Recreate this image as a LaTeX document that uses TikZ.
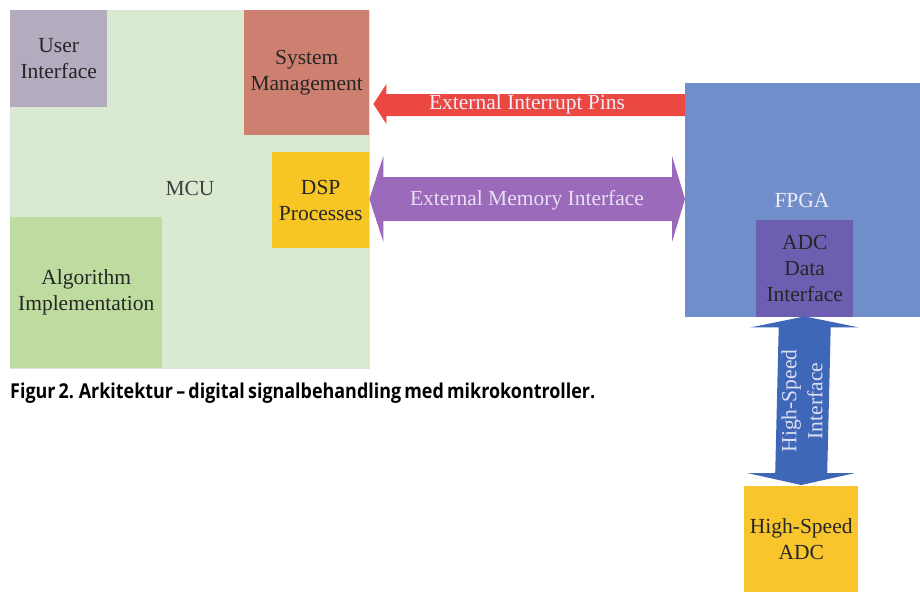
\documentclass[tikz,border=0pt]{standalone}
\usepackage{fontspec}
\usepackage{graphicx}
\setmainfont{Liberation Serif}
\newfontfamily\capfont{Open Sans}
\usetikzlibrary{calc}
\definecolor{mcubg}{RGB}{218,234,208}
\definecolor{uicol}{RGB}{180,172,190}
\definecolor{syscol}{RGB}{206,128,112}
\definecolor{dspcol}{RGB}{247,198,36}
\definecolor{algcol}{RGB}{190,220,160}
\definecolor{redarr}{RGB}{234,72,64}
\definecolor{purarr}{RGB}{155,106,186}
\definecolor{fpgacol}{RGB}{112,143,202}
\definecolor{adccol}{RGB}{108,95,178}
\definecolor{bluearr}{RGB}{63,103,184}
\definecolor{hsadc}{RGB}{248,198,44}
\definecolor{boxtext}{RGB}{38,38,38}
\definecolor{lighttext}{RGB}{240,236,250}
\tikzset{
  blk/.style={anchor=north west, inner sep=0pt, align=center, text=boxtext,
    font=\fontsize{21.5}{26}\selectfont},
  lbl/.style={inner sep=0pt, align=center, font=\fontsize{21.5}{26}\selectfont}
}
\begin{document}
\begin{tikzpicture}[x=1pt,y=-1pt]
\useasboundingbox (0,0) rectangle (920,592);
\fill[white] (0,0) rectangle (920,592);
% MCU
\node[blk, fill=mcubg, draw=black!12, line width=0.6pt, minimum width=359pt, minimum height=358pt] (mcu) at (10,10) {};
\node[lbl, text=black!75] (mcut) at (190,188) {MCU};
\node[blk, fill=uicol, minimum width=97pt, minimum height=97pt] (ui) at (10,10) {User\\Interface};
\node[blk, fill=syscol, minimum width=125pt, minimum height=125pt] (sys) at (244,10) {System\\Management};
\node[blk, fill=dspcol, minimum width=97pt, minimum height=96pt] (dsp) at (272,152) {DSP\\Processes};
\node[blk, fill=algcol, minimum width=152pt, minimum height=151pt] (alg) at (10,217) {Algorithm\\Implementation};
% FPGA
\node[blk, fill=fpgacol, minimum width=235pt, minimum height=234pt] (fpga) at (685,83) {};
\node[lbl, text=lighttext] (fpgat) at (802,200) {FPGA};
\node[blk, fill=adccol, minimum width=97pt, minimum height=97pt] (adi) at (756,220) {ADC\\Data\\Interface};
% High-speed ADC
\node[blk, fill=hsadc, minimum width=114pt, minimum height=106pt] (hsadc) at (744,486) {High-Speed\\ADC};
% red arrow
\coordinate (rt) at ($(sys.east |- 0,104)+(4,0)$);
\coordinate (re) at (fpga.west |- 0,104);
\fill[redarr] (rt) -- ++(13,-20) -- ++(0,10) -- ($(re)+(0,-10)$) -- ($(re)+(0,12)$)
  -- ($(rt)+(13,12)$) -- ++(0,8) -- cycle;
\node[lbl, text=lighttext] (rlab) at (527,104) {External Interrupt Pins};
% purple arrow
\coordinate (pl) at (dsp.east |- 0,199);
\coordinate (pr) at (fpga.west |- 0,199);
\fill[purarr] (pl) -- ++(14,-43) -- ++(0,21) -- ($(pr)+(-13,-22)$) -- ++(0,-21) -- (pr)
  -- ++(-13,43) -- ++(0,-21) -- ($(pl)+(14,22)$) -- ++(0,21) -- cycle;
\node[lbl, text=lighttext!90!purarr] (plab) at (527,200) {External Memory Interface};
% blue arrow
\coordinate (bt) at ($(adi.south)+(0,-1)$);
\coordinate (bb) at ($(hsadc.north)+(0,-1)$);
\fill[bluearr] (bt) -- ++(54,11) -- ++(-28,0) -- ($(bb)+(26,-12)$) -- ++(28,0) -- (bb)
  -- ++(-54,-12) -- ++(28,0) -- ($(bt)+(-26,11)$) -- ++(-28,0) -- cycle;
\node[lbl, text=lighttext!90!bluearr, rotate=90] (blab) at (802,401) {High-Speed\\Interface};
% caption
\node[anchor=base west, inner sep=0pt] (cap) at (10,398)
  {\resizebox{585pt}{\height}{\capfont\bfseries\fontsize{20.5}{24}\selectfont\spaceskip=0.18em Figur 2. Arkitektur – digital signalbehandling med mikrokontroller.}};
\end{tikzpicture}
\end{document}
